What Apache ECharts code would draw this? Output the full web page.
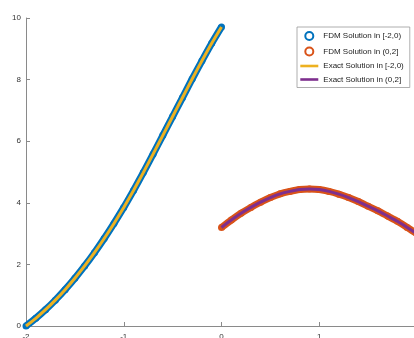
<!DOCTYPE html>
<html>
<head>
<meta charset="utf-8">
<script src="https://cdn.jsdelivr.net/npm/echarts@6/dist/echarts.min.js"></script>
<style>html,body{margin:0;padding:0;background:#fff;}#c{width:414px;height:338px;}</style>
</head>
<body>
<div id="c"></div>
<script>
// x positions and values
const xLeft  = [-2.0,-1.9,-1.8,-1.7,-1.6,-1.5,-1.4,-1.3,-1.2,-1.1,-1.0,-0.9,-0.8,-0.7,-0.6,-0.5,-0.4,-0.3,-0.2,-0.1,0.0];
const yLeft  = [0,0.25,0.53,0.84,1.18,1.55,1.95,2.38,2.84,3.33,3.85,4.40,4.98,5.58,6.19,6.80,7.41,8.02,8.61,9.18,9.71];
const xRight = [0.0,0.1,0.2,0.3,0.4,0.5,0.6,0.7,0.8,0.9,1.0,1.1,1.2,1.3,1.4,1.5,1.6,1.7,1.8,1.9,2.0];
const yRight = [3.20,3.44,3.66,3.85,4.02,4.17,4.29,4.37,4.43,4.45,4.43,4.37,4.28,4.17,4.04,3.89,3.74,3.57,3.40,3.20,2.99];
const seriesNames = ['FDM Solution in [-2,0)','FDM Solution in (0,2]','Exact Solution in [-2,0)','Exact Solution in (0,2]'];
const xTicks = [-2,-1,0,1,2];
const yTicks = [0,2,4,6,8,10];

const pairs = (xs, ys) => xs.map((x, i) => [x, ys[i]]);
const font = "'Liberation Sans', Arial, Helvetica, sans-serif";
const chart = echarts.init(document.getElementById('c'), null, {renderer: 'canvas'});
chart.setOption({
  animation: false,
  backgroundColor: '#fff',
  grid: {left: 26, width: 391, top: 18, bottom: 12, containLabel: false, outerBoundsMode: 'none'},
  xAxis: {
    type: 'value', min: xTicks[0], max: xTicks[xTicks.length-1], interval: 1,
    axisLine: {show: true, onZero: false, lineStyle: {color: '#8a8a8a', width: 1}},
    axisTick: {show: true, inside: true, length: 4, lineStyle: {color: '#8a8a8a'}},
    axisLabel: {show: true, margin: 7, fontSize: 8, color: '#333', fontFamily: font,
      formatter: v => xTicks.includes(v) ? String(v) : ''},
    splitLine: {show: false}
  },
  yAxis: {
    type: 'value', min: yTicks[0], max: yTicks[yTicks.length-1], interval: 2,
    axisLine: {show: true, onZero: false, lineStyle: {color: '#8a8a8a', width: 1}},
    axisTick: {show: true, inside: true, length: 4, lineStyle: {color: '#8a8a8a'}},
    axisLabel: {show: true, margin: 5, fontSize: 8, color: '#333', fontFamily: font},
    splitLine: {show: false}
  },
  legend: {
    orient: 'vertical', left: 297, top: 27,
    padding: [4, 6, 4, 2], itemGap: 5.5, itemWidth: 18, itemHeight: 8,
    backgroundColor: '#fff', borderColor: '#9a9a9a', borderWidth: 0.8,
    textStyle: {fontSize: 8, color: '#222', fontFamily: font},
    data: [
      {name: seriesNames[0], icon: 'emptyCircle', itemStyle: {borderWidth: 2.2}},
      {name: seriesNames[1], icon: 'emptyCircle', itemStyle: {borderWidth: 2.2}},
      {name: seriesNames[2], itemStyle: {opacity: 0}, lineStyle: {width: 2.6}},
      {name: seriesNames[3], itemStyle: {opacity: 0}, lineStyle: {width: 2.6}}
    ]
  },
  series: [
    {name: seriesNames[0], type: 'line', data: pairs(xLeft, yLeft), smooth: 0.2, z: 2,
      symbol: 'circle', symbolSize: 7, showSymbol: true,
      itemStyle: {color: '#0072BD'},
      lineStyle: {color: '#0072BD', width: 7}},
    {name: seriesNames[1], type: 'line', data: pairs(xRight, yRight), smooth: 0.2, z: 2,
      symbol: 'circle', symbolSize: 7, showSymbol: true,
      itemStyle: {color: '#D95319'},
      lineStyle: {color: '#D95319', width: 7}},
    {name: seriesNames[2], type: 'line', data: pairs(xLeft, yLeft), smooth: 0.2, z: 5,
      symbol: 'none', showSymbol: false,
      itemStyle: {color: '#EDB120'}, lineStyle: {color: '#EDB120', width: 3}},
    {name: seriesNames[3], type: 'line', data: pairs(xRight, yRight), smooth: 0.2, z: 5,
      symbol: 'none', showSymbol: false,
      itemStyle: {color: '#7E2F8E'}, lineStyle: {color: '#7E2F8E', width: 3}}
  ]
});
</script>
</body>
</html>
